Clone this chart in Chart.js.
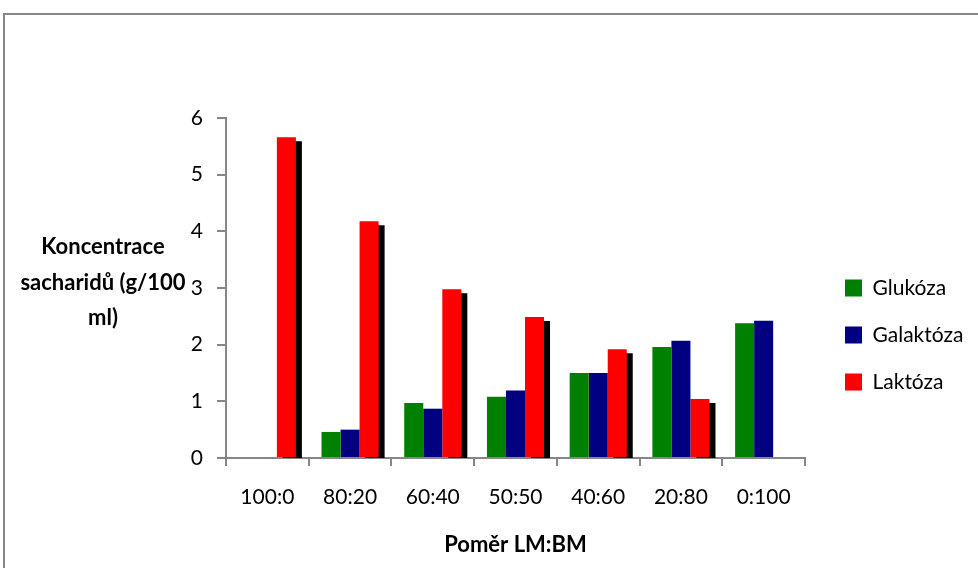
<!DOCTYPE html>
<html>
<head>
<meta charset="utf-8">
<script src="https://cdn.jsdelivr.net/npm/chart.js@4/dist/chart.umd.min.js"></script>
<style>
  html, body { margin: 0; padding: 0; background: #fff; }
  canvas { display: block; }
</style>
</head>
<body>
<canvas id="c" width="978" height="568"></canvas>
<script>
// ---- data ----
const categories = ['100:0', '80:20', '60:40', '50:50', '40:60', '20:80', '0:100'];
const seriesNames = ['Glukóza', 'Galaktóza', 'Laktóza'];
const glukoza   = [null, 0.46, 0.97, 1.08, 1.50, 1.96, 2.38];
const galaktoza = [null, 0.50, 0.87, 1.19, 1.50, 2.07, 2.42];
const laktoza   = [5.66, 4.18, 2.98, 2.49, 1.92, 1.04, null];
const yTicks = [0, 1, 2, 3, 4, 5, 6];
const xTitle = 'Poměr LM:BM';
const yTitleLines = ['Koncentrace', 'sacharidů (g/100', 'ml)'];

// ---- styling ----
const colors = ['#008000', '#000080', '#FF0000'];
const axisGray = '#868686';
const FONT = 'Lato';
Chart.defaults.font.family = FONT;
Chart.defaults.color = '#000';

const tickFont = 21, titleFont = 22;
// legend placement: box left edge lands at x=845, chart area right edge at 804
const legendFont = 21, legendBox = 17, legendPad = 26;
const mctx = document.createElement('canvas').getContext('2d');
mctx.font = legendFont + 'px ' + FONT;
const maxTextW = Math.max(...seriesNames.map(n => mctx.measureText(n).width));
const legendW = legendPad + legendBox + legendFont / 2 + maxTextW + 10;
const padRight = Math.max(0, 978 - (845 - legendPad) - legendW);

const framePlugin = {
  id: 'frame',
  beforeDraw(chart) {
    const c = chart.ctx;
    c.save();
    c.strokeStyle = axisGray;
    c.lineWidth = 2;
    c.strokeRect(4, 14, 1200, 800);
    c.restore();
  },
  afterDraw(chart) {
    const c = chart.ctx;
    c.save();
    c.font = 'bold ' + titleFont + 'px ' + FONT;
    c.fillStyle = '#000';
    c.textAlign = 'center';
    c.textBaseline = 'middle';
    const ys = [247, 283, 318];
    yTitleLines.forEach((t, i) => c.fillText(t, 103, ys[i]));
    c.restore();
  }
};

const shadowPlugin = {
  id: 'barShadow',
  beforeDatasetDraw(chart, args) {
    if (args.index === 2) {
      const c = chart.ctx;
      c.save();
      c.shadowColor = '#000';
      c.shadowOffsetX = 6;
      c.shadowOffsetY = 4;
      c.shadowBlur = 0;
    }
  },
  afterDatasetDraw(chart, args) {
    if (args.index === 2) chart.ctx.restore();
  }
};

const seriesData = [glukoza, galaktoza, laktoza];
new Chart(document.getElementById('c'), {
  type: 'bar',
  data: {
    labels: categories,
    datasets: seriesNames.map((name, i) => ({
      label: name,
      data: seriesData[i],
      backgroundColor: colors[i],
      borderWidth: 0,
      categoryPercentage: 0.69,
      barPercentage: 1.0
    }))
  },
  options: {
    responsive: false,
    animation: false,
    devicePixelRatio: 1,
    layout: { padding: { left: 10, top: 118, right: padRight, bottom: 16 } },
    scales: {
      x: {
        grid: { display: true, drawOnChartArea: false, drawTicks: true, tickLength: 8, color: axisGray, lineWidth: 2, offset: true },
        border: { display: true, color: axisGray, width: 2 },
        ticks: { color: '#000', font: { size: tickFont }, padding: 19, maxRotation: 0, autoSkip: false },
        title: { display: true, text: xTitle, color: '#000', font: { size: titleFont, weight: 'bold', lineHeight: 0.6 }, padding: { top: 0, bottom: 0 } },
        afterFit(s) { s.height = 94; }
      },
      y: {
        min: yTicks[0],
        max: yTicks[yTicks.length - 1],
        afterBuildTicks(s) { s.ticks = yTicks.map(v => ({ value: v })); },
        ticks: { color: '#000', font: { size: tickFont }, padding: 14 },
        grid: { display: true, drawOnChartArea: false, drawTicks: true, tickLength: 9, color: axisGray, lineWidth: 2 },
        border: { display: true, color: axisGray, width: 2 },
        afterFit(s) { s.width = 216; }
      },
      yGap: {
        position: 'right',
        display: true,
        grid: { display: false },
        border: { display: false },
        ticks: { display: false },
        afterFit(s) { s.width = 14; }
      }
    },
    plugins: {
      legend: {
        position: 'right',
        labels: { boxWidth: legendBox, boxHeight: legendBox, padding: legendPad, color: '#000', font: { size: legendFont } }
      },
      tooltip: { enabled: false }
    }
  },
  plugins: [framePlugin, shadowPlugin]
});
</script>
</body>
</html>
